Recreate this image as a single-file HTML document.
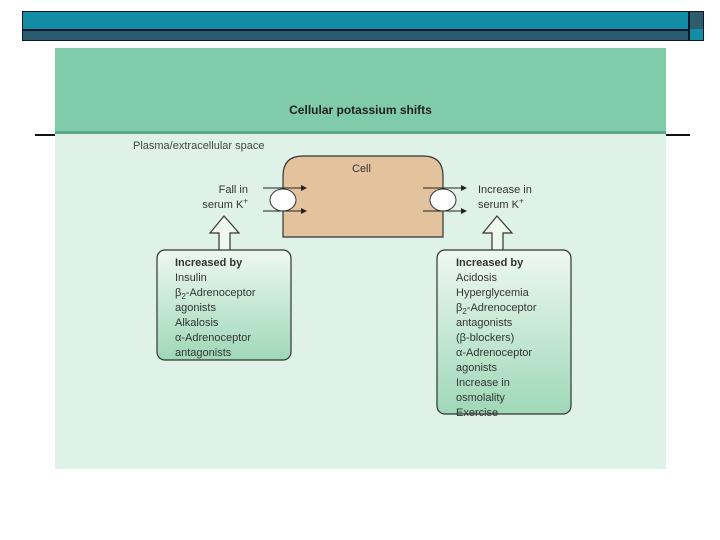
<!DOCTYPE html>
<html><head><style>
body{margin:0;width:720px;height:540px;background:#fff;position:relative;overflow:hidden;font-family:"Liberation Sans",sans-serif}
div{position:absolute}
.t{font-size:11px;color:#333;line-height:15px}
</style></head><body>
<div style="left:22px;top:11px;width:680px;height:28px;border:1px solid #0a1a2a;background:#138ca6"></div>
<div style="left:23px;top:29px;width:665px;height:2px;background:#0a1a2a"></div>
<div style="left:23px;top:31px;width:665px;height:9px;background:#2a5a6e"></div>
<div style="left:688px;top:12px;width:2px;height:28px;background:#0a1a2a"></div>
<div style="left:690px;top:12px;width:13px;height:17px;background:#2e5b6e"></div>
<div style="left:690px;top:31px;width:13px;height:9px;background:#138ca6"></div>
<div style="left:35px;top:134px;width:655px;height:2px;background:#111"></div>
<div style="left:55px;top:48px;width:611px;height:84px;background:#80cba8"></div>
<div style="left:55px;top:131px;width:611px;height:3px;background:#5aa98a"></div>
<div style="left:55px;top:134px;width:611px;height:335px;background:#dff2e7"></div>
<div style="left:55px;top:103px;width:611px;text-align:center;font-weight:bold;font-size:12px;color:#222">Cellular potassium shifts</div>
<div class="t" style="left:133px;top:139px;color:#444">Plasma/extracellular space</div>
<svg style="position:absolute;left:0;top:0" width="720" height="540">
<defs><linearGradient id="g" x1="0" y1="0" x2="0" y2="1"><stop offset="0" stop-color="#eef8f1"/><stop offset="1" stop-color="#9fd8b8"/></linearGradient>
<marker id="a" markerWidth="6" markerHeight="6" refX="5" refY="3" orient="auto"><path d="M0,0L6,3L0,6z" fill="#222"/></marker></defs>
<path d="M283,237V176Q283,156 303,156H423Q443,156 443,176V237Z" fill="#e3c29e" stroke="#333" stroke-width="1.2"/>
<g stroke="#222" stroke-width="1" marker-end="url(#a)">
<line x1="263" y1="188" x2="306" y2="188"/><line x1="263" y1="211" x2="306" y2="211"/>
<line x1="423" y1="188" x2="466" y2="188"/><line x1="423" y1="211" x2="466" y2="211"/></g>
<ellipse cx="283" cy="200" rx="13" ry="11" fill="#fff" stroke="#333"/>
<ellipse cx="443" cy="200" rx="13" ry="11" fill="#fff" stroke="#333"/>
<path d="M224,216L239,233H230V251H219V233H210Z" fill="#eef8ec" stroke="#333" stroke-width="1.2"/>
<path d="M497,216L512,233H503V251H492V233H483Z" fill="#eef8ec" stroke="#333" stroke-width="1.2"/>
<rect x="157" y="250" width="134" height="110" rx="8" fill="url(#g)" stroke="#333" stroke-width="1.2"/>
<rect x="437" y="250" width="134" height="164" rx="8" fill="url(#g)" stroke="#333" stroke-width="1.2"/>
</svg>
<div class="t" style="left:170px;top:183px;width:78px;text-align:right">Fall in<br>serum K<sup style="font-size:8px;line-height:0">+</sup></div>
<div class="t" style="left:478px;top:183px">Increase in<br>serum K<sup style="font-size:8px;line-height:0">+</sup></div>
<div class="t" style="left:352px;top:162px">Cell</div>
<div class="t" style="left:175px;top:256px"><b>Increased by</b><br>Insulin<br>β<sub style="font-size:8px;line-height:0">2</sub>-Adrenoceptor<br>agonists<br>Alkalosis<br>α-Adrenoceptor<br>antagonists</div>
<div class="t" style="left:456px;top:256px"><b>Increased by</b><br>Acidosis<br>Hyperglycemia<br>β<sub style="font-size:8px;line-height:0">2</sub>-Adrenoceptor<br>antagonists<br>(β-blockers)<br>α-Adrenoceptor<br>agonists<br>Increase in<br>osmolality<br>Exercise</div>
</body></html>
